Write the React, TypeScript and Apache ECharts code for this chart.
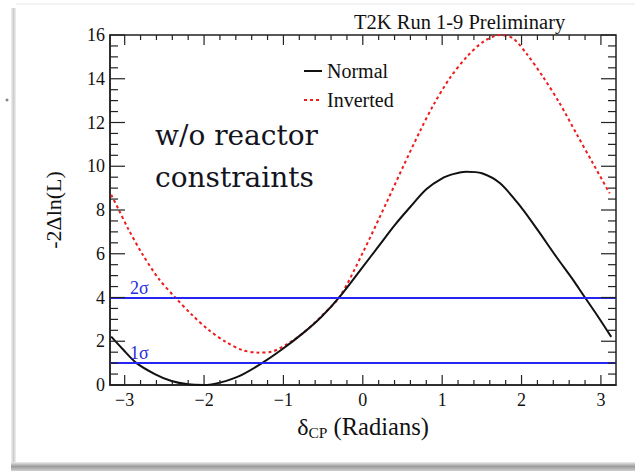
import React, { useEffect, useRef } from 'react';
import * as echarts from 'echarts';

const normalX = [-3.17, -3.02, -2.85, -2.62, -2.41, -2.2, -2.0, -1.8, -1.55, -1.27, -1.02, -0.73, -0.52, -0.29, 0.0, 0.2, 0.4, 0.6, 0.8, 1.0, 1.15, 1.3, 1.5, 1.73, 2.0, 2.2, 2.44, 2.66, 2.78, 2.95, 3.13];
const normalY = [2.21, 1.62, 1.0, 0.5, 0.18, 0.03, 0.0, 0.11, 0.42, 1.0, 1.62, 2.44, 3.12, 4.04, 5.4, 6.35, 7.3, 8.15, 8.95, 9.45, 9.65, 9.75, 9.68, 9.22, 8.1, 7.1, 5.85, 4.75, 4.1, 3.2, 2.2];

const invertedX = [-3.17, -3.08, -2.95, -2.78, -2.57, -2.36, -2.15, -1.94, -1.73, -1.52, -1.32, -1.15, -0.94, -0.73, -0.52, -0.29, 0.0, 0.3, 0.51, 0.72, 0.89, 1.1, 1.31, 1.52, 1.73, 1.89, 2.06, 2.27, 2.48, 2.69, 2.9, 3.11];
const invertedY = [8.7, 8.05, 7.1, 6.0, 4.85, 3.99, 3.2, 2.51, 1.98, 1.6, 1.48, 1.52, 1.9, 2.44, 3.15, 4.04, 6.05, 8.35, 10.0, 11.6, 12.8, 14.05, 15.0, 15.7, 16.0, 15.85, 15.16, 14.09, 12.88, 11.5, 10.13, 8.76];

const xMajorTicks = [-3, -2, -1, 0, 1, 2, 3];
const xMinorTicks = [-2.8, -2.6, -2.4, -2.2, -1.8, -1.6, -1.4, -1.2, -0.8, -0.6, -0.4, -0.2, 0.2, 0.4, 0.6, 0.8, 1.2, 1.4, 1.6, 1.8, 2.2, 2.4, 2.6, 2.8];
const yMajorTicks = [0, 2, 4, 6, 8, 10, 12, 14, 16];
const yMinorTicks = [0.5, 1, 1.5, 2.5, 3, 3.5, 4.5, 5, 5.5, 6.5, 7, 7.5, 8.5, 9, 9.5, 10.5, 11, 11.5, 12.5, 13, 13.5, 14.5, 15, 15.5];

const sigmaLevels = [4, 1];
const sigmaLabels = ['2σ', '1σ'];
const seriesNames = ['Normal', 'Inverted'];

const SERIF = "'Liberation Serif', 'Times New Roman', serif";
const X_MIN = -3.185;
const X_MAX = 3.19;

// tick side codes: 0 bottom, 1 top, 2 left, 3 right
const SIDE_BOTTOM = 0;
const SIDE_TOP = 1;
const SIDE_LEFT = 2;
const SIDE_RIGHT = 3;

const zip = (xs: number[], ys: number[]) => xs.map((x, i) => [x, ys[i]]);

export default function App() {
  const ref = useRef<HTMLDivElement>(null);
  useEffect(() => {
    if (!ref.current) return;
    const chart = echarts.init(ref.current, null, { renderer: 'svg' });
    const fmtX = (v: number) => (v < 0 ? '\u2212' + Math.abs(v) : String(v));

    const tickData: number[][] = [];
    const addTicks = (vals: number[], sides: number[], len: number) => {
      vals.forEach((v) => sides.forEach((s) => tickData.push([s, len, v])));
    };
    addTicks(xMajorTicks, [SIDE_BOTTOM, SIDE_TOP], 10);
    addTicks(xMinorTicks, [SIDE_BOTTOM, SIDE_TOP], 5);
    addTicks(yMajorTicks, [SIDE_LEFT, SIDE_RIGHT], 15);
    addTicks(yMinorTicks, [SIDE_LEFT, SIDE_RIGHT], 8);

    const option: any = {
      animation: false,
      backgroundColor: '#ffffff',
      grid: {
        left: 110, top: 35, right: 19, bottom: 86,
        show: true, borderColor: '#222', borderWidth: 1.5, backgroundColor: 'transparent',
      },
      title: {
        text: 'T2K Run 1-9 Preliminary', left: 354, top: 11, padding: 0,
        textStyle: { fontFamily: SERIF, fontSize: 20.5, fontWeight: 'normal', color: '#111' },
      },
      legend: {
        data: seriesNames, orient: 'vertical', left: 303, top: 61, padding: 0,
        itemWidth: 18, itemHeight: 12, itemGap: 9, itemTextGap: 4,
        itemStyle: { opacity: 0 },
        textStyle: { fontFamily: SERIF, fontSize: 20, color: '#111' },
      },
      xAxis: {
        type: 'value', min: X_MIN, max: X_MAX,
        splitLine: { show: false },
        axisLine: { show: true, onZero: false, lineStyle: { color: '#222', width: 1.5 } },
        axisTick: { show: false },
        axisLabel: { show: true, customValues: xMajorTicks, formatter: fmtX, margin: 6, fontFamily: SERIF, fontSize: 18, color: '#111' },
        name: '{d|δ}{s|CP} (Radians)', nameLocation: 'middle', nameGap: 28,
        nameTextStyle: {
          fontFamily: SERIF, fontSize: 24.5, color: '#111',
          rich: {
            d: { fontFamily: SERIF, fontSize: 24, lineHeight: 27, color: '#111' },
            s: { fontFamily: SERIF, fontSize: 15.5, lineHeight: 2, verticalAlign: 'bottom', color: '#111' },
          },
        },
      },
      yAxis: {
        type: 'value', min: 0, max: 16, interval: 2, position: 'left',
        splitLine: { show: false },
        axisLine: { show: true, onZero: false, lineStyle: { color: '#222', width: 1.5 } },
        axisTick: { show: false },
        axisLabel: { margin: 5, fontFamily: SERIF, fontSize: 18, color: '#111' },
        name: '-2Δln(L)', nameLocation: 'middle', nameGap: 46,
        nameTextStyle: { fontFamily: SERIF, fontSize: 22, color: '#111' },
      },
      series: [
        {
          name: seriesNames[0], type: 'line', data: zip(normalX, normalY), symbol: 'none', smooth: 0.3, z: 4,
          lineStyle: { color: '#111111', width: 2 }, itemStyle: { color: '#111111' },
          markLine: {
            silent: true, symbol: ['none', 'none'],
            lineStyle: { color: '#2626f0', width: 2, type: 'solid' },
            label: { show: true, position: 'insideStartTop', distance: [20, 1], color: '#2a2ae0', fontFamily: SERIF, fontSize: 18 },
            data: sigmaLevels.map((y, i) => ({ yAxis: y, label: { formatter: sigmaLabels[i] } })),
          },
        },
        {
          name: seriesNames[1], type: 'line', data: zip(invertedX, invertedY), symbol: 'none', smooth: 0.3, z: 3,
          lineStyle: { color: '#ee1c1c', width: 2, type: [3, 3] }, itemStyle: { color: '#ee1c1c' },
        },
        {
          type: 'custom',
          silent: true,
          clip: false,
          z: 5,
          data: tickData,
          encode: { x: 0, y: 1 },
          renderItem: (params: any, api: any) => {
            const side = api.value(0);
            const len = api.value(1);
            const v = api.value(2);
            const cs = params.coordSys;
            let x1: number, y1: number, x2: number, y2: number;
            if (side === SIDE_BOTTOM || side === SIDE_TOP) {
              const px = api.coord([v, 0])[0];
              x1 = px;
              x2 = px;
              y1 = side === SIDE_BOTTOM ? cs.y + cs.height : cs.y;
              y2 = side === SIDE_BOTTOM ? y1 - len : y1 + len;
            } else {
              const py = api.coord([0, v])[1];
              y1 = py;
              y2 = py;
              x1 = side === SIDE_LEFT ? cs.x : cs.x + cs.width;
              x2 = side === SIDE_LEFT ? x1 + len : x1 - len;
            }
            return {
              type: 'line',
              shape: { x1, y1, x2, y2 },
              style: { stroke: '#222', lineWidth: 1.2 },
            };
          },
        },
      ],
      graphic: [
        {
          type: 'rect', z: -10, silent: true,
          shape: { x: 11, y: 8, width: 5, height: 456 },
          style: {
            fill: new echarts.graphic.LinearGradient(0, 0, 1, 0, [
              { offset: 0, color: '#f2f2f2' },
              { offset: 0.5, color: '#cdcdcd' },
              { offset: 1, color: '#f0f0f0' },
            ]),
          },
        },
        {
          type: 'rect', z: -10, silent: true,
          shape: { x: 11, y: 462, width: 624, height: 9 },
          style: {
            fill: new echarts.graphic.LinearGradient(0, 0, 0, 1, [
              { offset: 0, color: '#ececec' },
              { offset: 0.5, color: '#9c9c9c' },
              { offset: 1, color: '#d0d0d0' },
            ]),
          },
        },
        {
          type: 'rect', z: -10, silent: true,
          shape: { x: 16, y: 3, width: 619, height: 2 },
          style: { fill: '#f3f3f3' },
        },
        {
          type: 'circle', silent: true,
          shape: { cx: 7, cy: 100, r: 1.5 },
          style: { fill: '#888' },
        },
        {
          type: 'text', left: 155, top: 114, silent: true,
          style: {
            text: 'w/o reactor\nconstraints',
            fontFamily: "'DejaVu Serif', serif",
            fontSize: 28, lineHeight: 42, fill: '#14141e',
          },
        },
      ],
    };
    chart.setOption(option);
    return () => chart.dispose();
  }, []);
  return <div ref={ref} style={{ width: 635, height: 471, position: 'absolute', left: 0, top: 0 }} />;
}
